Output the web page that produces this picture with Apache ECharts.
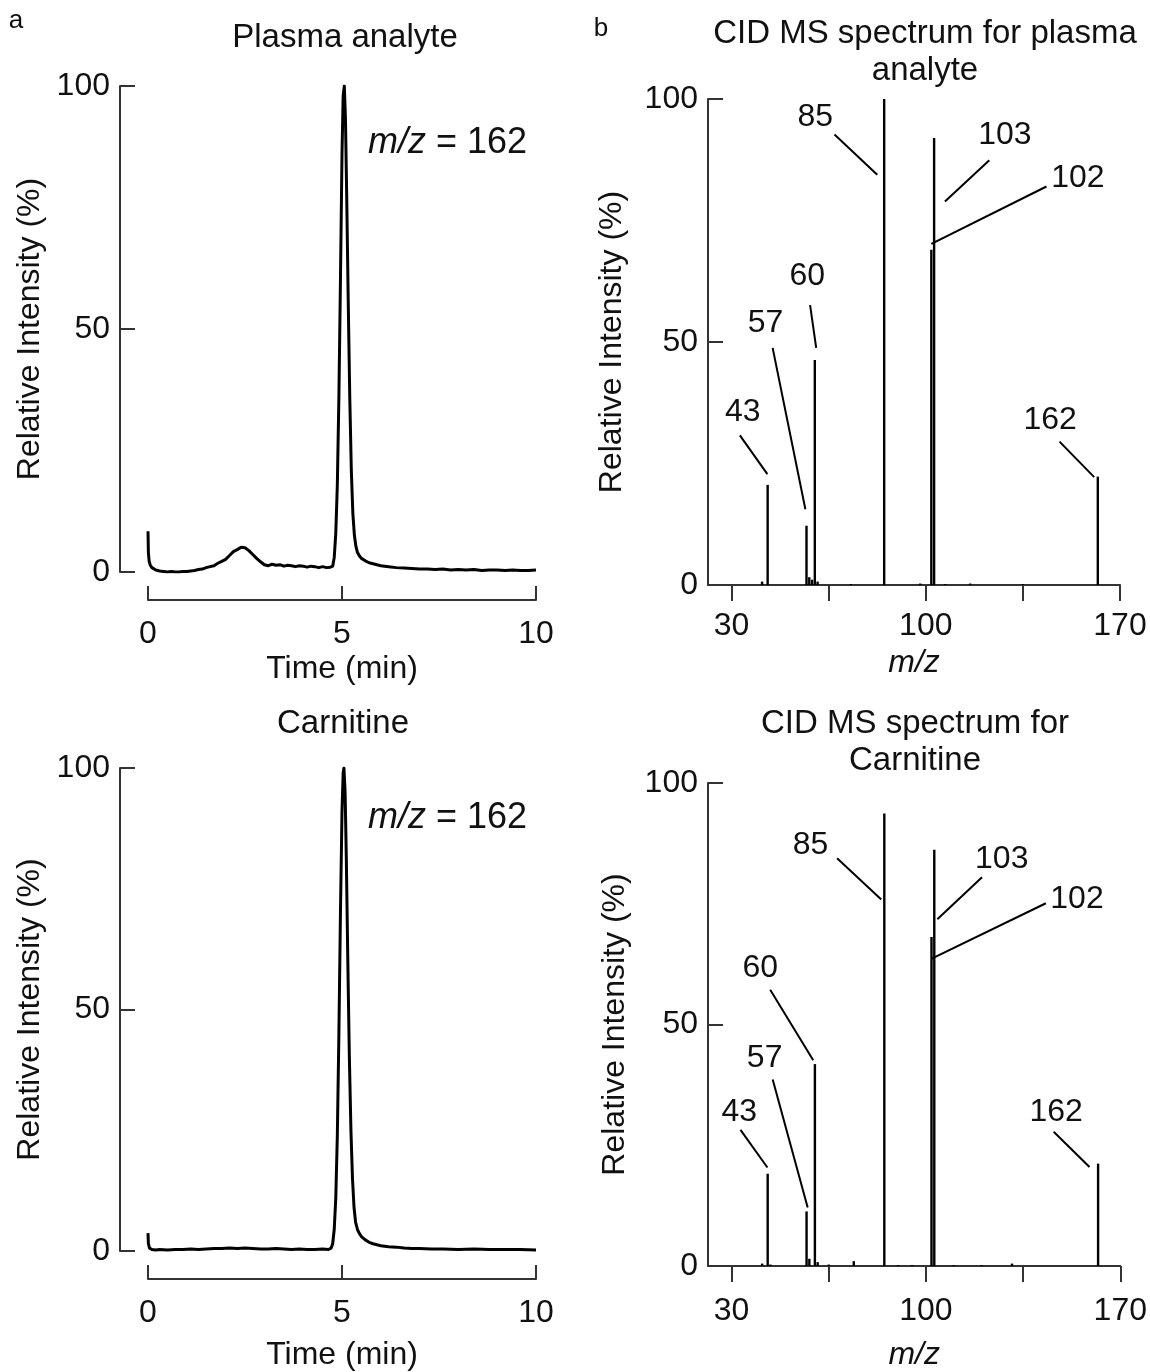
<!DOCTYPE html>
<html>
<head>
<meta charset="utf-8">
<title>Plasma analyte vs carnitine: LC trace and CID MS spectra</title>
<script src="https://cdn.jsdelivr.net/npm/echarts@6/dist/echarts.min.js"></script>
<style>
  html, body { margin: 0; padding: 0; background: #fff; }
  #chart { width: 1150px; height: 1372px; }
</style>
</head>
<body>
<div id="chart"></div>
<script>
// ---------- Chromatogram, plasma analyte (m/z 162 trace) ----------
const timeA = [0, 0.01, 0.03, 0.06, 0.1, 0.15, 0.2, 0.3, 0.4, 0.5, 0.6, 0.7, 0.8, 0.9, 1.0, 1.1, 1.2, 1.3, 1.4, 1.5,
  1.6, 1.7, 1.8, 1.9, 2.0, 2.1, 2.2, 2.3, 2.4, 2.5, 2.6, 2.7, 2.8, 2.9, 3.0, 3.1, 3.2, 3.3, 3.4, 3.5,
  3.6, 3.7, 3.8, 3.9, 4.0, 4.1, 4.2, 4.3, 4.4, 4.5, 4.6, 4.7, 4.76, 4.8, 4.84, 4.88, 4.92, 4.96, 5.0, 5.03,
  5.06, 5.09, 5.12, 5.16, 5.2, 5.24, 5.28, 5.32, 5.36, 5.4, 5.45, 5.5, 5.6, 5.7, 5.8, 5.9, 6.0, 6.2, 6.4, 6.6,
  6.8, 7.0, 7.2, 7.4, 7.6, 7.8, 8.0, 8.2, 8.4, 8.6, 8.8, 9.0, 9.2, 9.4, 9.6, 9.8, 10.0];
const intensityA = [8.4, 4.0, 2.2, 1.4, 0.9, 0.6, 0.4, 0.2, 0.1, 0.0, 0.1, 0.0, 0.0, 0.1, 0.1, 0.2, 0.3, 0.5, 0.6, 0.9,
  1.1, 1.3, 1.8, 2.2, 2.6, 3.4, 4.2, 4.6, 5.1, 5.0, 4.4, 3.6, 2.8, 2.1, 1.5, 1.3, 1.6, 1.4, 1.5, 1.2,
  1.4, 1.3, 1.1, 1.3, 1.2, 1.0, 1.2, 1.1, 0.9, 1.1, 0.9, 1.0, 1.2, 3.0, 8, 18, 36, 60, 86, 98,
  100, 93, 78, 56, 36, 21, 12, 7.5, 5.2, 4.0, 3.3, 2.8, 2.3, 1.9, 1.7, 1.5, 1.3, 1.1, 0.9, 0.8,
  0.7, 0.6, 0.6, 0.5, 0.6, 0.4, 0.5, 0.4, 0.5, 0.3, 0.4, 0.4, 0.3, 0.4, 0.3, 0.3, 0.4];

// ---------- Chromatogram, carnitine standard ----------
const timeC = [0, 0.01, 0.04, 0.1, 0.2, 0.3, 0.5, 0.7, 0.9, 1.1, 1.3, 1.5, 1.7, 1.9, 2.1, 2.3, 2.5, 2.7, 2.9, 3.1,
  3.3, 3.5, 3.7, 3.9, 4.1, 4.3, 4.5, 4.65, 4.72, 4.76, 4.8, 4.84, 4.88, 4.92, 4.96, 5.0, 5.03, 5.05, 5.08, 5.11,
  5.15, 5.19, 5.23, 5.27, 5.31, 5.35, 5.4, 5.45, 5.5, 5.55, 5.6, 5.7, 5.8, 5.9, 6.0, 6.2, 6.4, 6.6, 6.8, 7.0,
  7.3, 7.6, 8.0, 8.4, 8.8, 9.2, 9.6, 10.0];
const intensityC = [3.7, 1.5, 0.6, 0.3, 0.2, 0.3, 0.2, 0.3, 0.3, 0.4, 0.3, 0.4, 0.5, 0.5, 0.6, 0.5, 0.6, 0.5, 0.4, 0.4,
  0.5, 0.4, 0.3, 0.4, 0.3, 0.3, 0.4, 0.3, 0.6, 1.5, 4.5, 11, 24, 45, 70, 91, 99, 100, 95, 82,
  60, 40, 25, 15, 9, 6, 4.4, 3.6, 3.0, 2.7, 2.3, 1.8, 1.5, 1.3, 1.1, 0.9, 0.8, 0.6, 0.5, 0.5,
  0.4, 0.4, 0.3, 0.4, 0.3, 0.3, 0.3, 0.2];

// ---------- CID MS spectrum, plasma analyte ----------
const mzB = [41, 43, 57, 58, 59, 60, 61, 73, 85, 98, 102, 103, 107, 116, 135, 162];
const relB = [0.7, 20.6, 12.2, 1.6, 1.1, 46.3, 0.7, 0.2, 100, 0.3, 69, 92, 0.2, 0.3, 0.2, 22.3];

// ---------- CID MS spectrum, carnitine ----------
const mzD = [41, 43, 44, 57, 58, 60, 61, 65, 74, 85, 90, 95, 102, 103, 110, 120, 131, 162];
const relD = [0.5, 19.1, 0.3, 11.3, 1.5, 41.8, 0.8, 0.3, 1.0, 93.7, 0.2, 0.2, 68.1, 86.2, 0.2, 0.2, 0.5, 21.2];

// Fragment ions that get a callout, in drawing order
const labelledB = [85, 103, 102, 60, 57, 43, 162];
const labelledD = [85, 103, 102, 60, 57, 43, 162];

// Ticks
const timeTicks = [0, 5, 10];
const intensityTicks = [0, 50, 100];
const mzTickMarks = [30, 65, 100, 135, 170];
const mzTickLabels = [30, 100, 170];

// Callout layout (m/z, %) : text anchor, then leader line start -> end
const calloutTextB = [[60.2, 96.3], [128.5, 92.6], [154.8, 83.7], [57.3, 63.6], [42.2, 53.9], [34.0, 35.6], [144.8, 34.0]];
const calloutLineB = [
  [[67.1, 92.7], [82.5, 84.4]],
  [[122.9, 87.4], [106.9, 78.9]],
  [[143.5, 82.0], [102.0, 70.2]],
  [[58.3, 57.6], [60.5, 48.8]],
  [[44.8, 48.8], [56.6, 15.6]],
  [[33.0, 30.8], [42.9, 22.8]],
  [[148.2, 29.5], [160.7, 22.2]]
];
const calloutTextD = [[58.4, 87.1], [127.3, 84.2], [154.4, 75.9], [40.3, 61.7], [41.9, 43.0], [32.8, 31.9], [146.9, 31.9]];
const calloutLineD = [
  [[68.0, 84.4], [83.9, 75.9]],
  [[120.2, 80.5], [104.1, 71.8]],
  [[143.2, 75.1], [101.9, 63.6]],
  [[43.9, 57.2], [59.4, 42.6]],
  [[44.8, 38.6], [57.4, 12.1]],
  [[33.2, 28.2], [42.9, 20.4]],
  [[146.0, 27.8], [158.9, 20.5]]
];

const FONT = "'Liberation Sans', Arial, Helvetica, sans-serif";
const INK = '#111';
const AXIS = '#333';

function zip(xs, ys) { return xs.map((x, i) => [x, ys[i]]); }

function titleText(text, left, top, extra) {
  return Object.assign({
    text: text, left: left, top: top, textAlign: 'center', padding: 0,
    textStyle: { fontFamily: FONT, fontSize: 33, fontWeight: 'normal', color: INK, lineHeight: 37 }
  }, extra || {});
}

function mzNote(left, top) {
  return {
    text: '{i|m/z} = 162', left: left, top: top, padding: 0,
    textStyle: {
      fontFamily: FONT, fontSize: 36, fontWeight: 'normal', color: INK, lineHeight: 36,
      rich: { i: { fontFamily: FONT, fontSize: 36, fontStyle: 'italic', color: INK } }
    }
  };
}

function yAxisCfg(gridIndex, offset, nameGap) {
  return {
    type: 'value', gridIndex: gridIndex, min: 0, max: 100, offset: offset,
    name: 'Relative Intensity (%)', nameLocation: 'middle', nameGap: nameGap,
    nameTextStyle: { fontFamily: FONT, fontSize: 32, color: INK },
    axisLine: { show: true, onZero: false, lineStyle: { color: AXIS, width: 2 } },
    axisTick: { show: true, inside: true, length: 15, lineStyle: { color: AXIS, width: 2 }, customValues: intensityTicks },
    axisLabel: { fontFamily: FONT, fontSize: 32, color: INK, margin: 10, customValues: intensityTicks },
    splitLine: { show: false }
  };
}

function timeAxisCfg(gridIndex, nameGap) {
  return {
    type: 'value', gridIndex: gridIndex, min: 0, max: 10, offset: 28,
    name: 'Time (min)', nameLocation: 'middle', nameGap: nameGap,
    nameTextStyle: { fontFamily: FONT, fontSize: 32, color: INK },
    axisLine: { show: true, onZero: false, lineStyle: { color: AXIS, width: 2 } },
    axisTick: { show: true, inside: true, length: 14, lineStyle: { color: AXIS, width: 2 }, customValues: timeTicks },
    axisLabel: { fontFamily: FONT, fontSize: 32, color: INK, margin: 18, customValues: timeTicks },
    splitLine: { show: false }
  };
}

function mzAxisCfg(gridIndex, labelMargin, nameGap) {
  return {
    type: 'value', gridIndex: gridIndex, min: 21.5, max: 170,
    name: 'm/z', nameLocation: 'middle', nameGap: nameGap,
    nameTextStyle: { fontFamily: FONT, fontSize: 32, fontStyle: 'italic', color: INK },
    axisLine: { show: true, onZero: false, lineStyle: { color: AXIS, width: 2 } },
    axisTick: { show: true, inside: false, length: 16, lineStyle: { color: AXIS, width: 2 }, customValues: mzTickMarks },
    axisLabel: { fontFamily: FONT, fontSize: 32, color: INK, margin: labelMargin, customValues: mzTickLabels },
    splitLine: { show: false }
  };
}

function traceSeries(idx, data) {
  return {
    type: 'line', xAxisIndex: idx, yAxisIndex: idx, data: data,
    showSymbol: false, symbol: 'none', smooth: false, silent: true,
    lineStyle: { color: '#000', width: 3, join: 'round' }
  };
}

function stickSeries(idx, mz, rel) {
  return {
    type: 'bar', xAxisIndex: idx, yAxisIndex: idx, data: zip(mz, rel),
    barWidth: 2.4, silent: true, itemStyle: { color: '#000' }
  };
}

function calloutLines(idx, segs) {
  return {
    type: 'lines', coordinateSystem: 'cartesian2d', xAxisIndex: idx, yAxisIndex: idx, silent: true,
    data: segs.map(s => ({ coords: s })),
    lineStyle: { color: '#000', width: 2, opacity: 1, curveness: 0 }
  };
}

function calloutLabels(idx, ions, anchors) {
  return {
    type: 'scatter', xAxisIndex: idx, yAxisIndex: idx, silent: true,
    symbol: 'circle', symbolSize: 1, itemStyle: { color: 'rgba(0,0,0,0)', opacity: 1 },
    data: ions.map((ion, i) => ({ name: String(ion), value: anchors[i] })),
    label: {
      show: true, position: 'inside', formatter: p => p.name,
      fontFamily: FONT, fontSize: 32, color: INK, opacity: 1
    }
  };
}

const letterStyle = { textStyle: { fontFamily: FONT, fontSize: 26, fontWeight: 'normal', color: INK, lineHeight: 26 } };

const option = {
  backgroundColor: '#fff',
  animation: false,
  title: [
    titleText('a', 16, 8, letterStyle),
    titleText('b', 601, 16, letterStyle),
    titleText('Plasma analyte', 345, 19),
    titleText('CID MS spectrum for plasma\nanalyte', 925, 15),
    titleText('Carnitine', 343, 705),
    titleText('CID MS spectrum for\nCarnitine', 915, 705),
    mzNote(368, 125),
    mzNote(368, 800)
  ],
  grid: [
    { left: 148, right: 614, top: 86, bottom: 800 },
    { left: 708, right: 30, top: 99, bottom: 787 },
    { left: 148, right: 614, top: 768, bottom: 120 },
    { left: 708, right: 29, top: 783, bottom: 104 }
  ],
  xAxis: [timeAxisCfg(0, 53), mzAxisCfg(1, 25, 62), timeAxisCfg(2, 60), mzAxisCfg(3, 29, 73)],
  yAxis: [yAxisCfg(0, 28, 74), yAxisCfg(1, 0, 80), yAxisCfg(2, 28, 74), yAxisCfg(3, 0, 77)],
  series: [
    traceSeries(0, zip(timeA, intensityA)),
    stickSeries(1, mzB, relB),
    calloutLines(1, calloutLineB),
    calloutLabels(1, labelledB, calloutTextB),
    traceSeries(2, zip(timeC, intensityC)),
    stickSeries(3, mzD, relD),
    calloutLines(3, calloutLineD),
    calloutLabels(3, labelledD, calloutTextD)
  ]
};

const chart = echarts.init(document.getElementById('chart'), null, { renderer: 'canvas' });
chart.setOption(option);
</script>
</body>
</html>
